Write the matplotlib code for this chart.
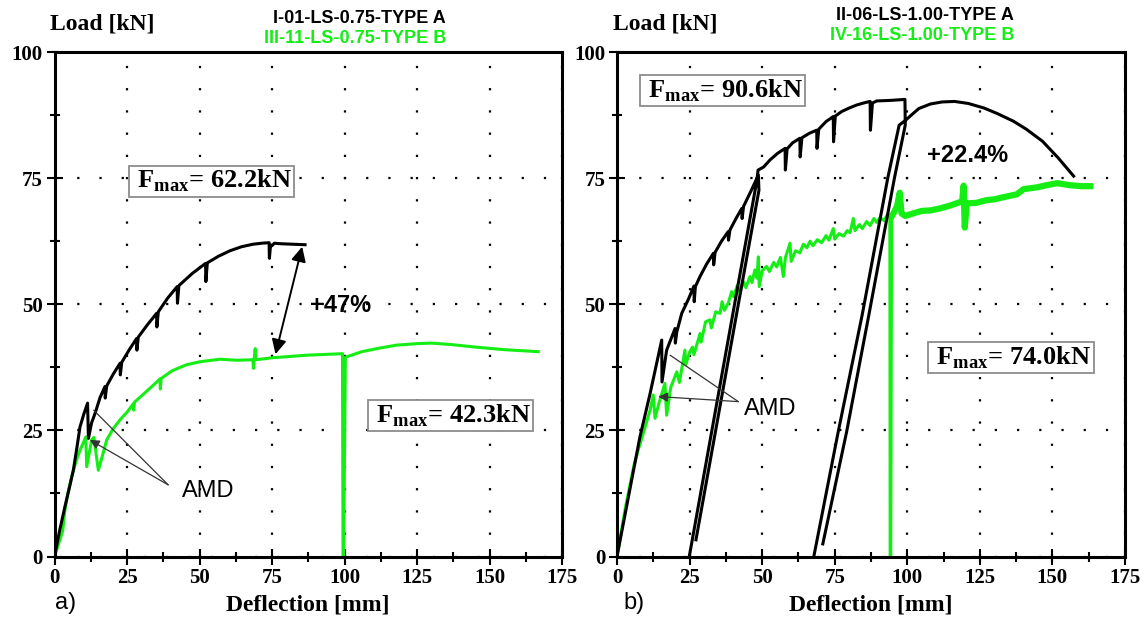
import numpy as np
import matplotlib.pyplot as plt
from matplotlib.ticker import MultipleLocator

plt.rcParams['font.family'] = 'Liberation Serif'
plt.rcParams['font.weight'] = 'bold'
plt.rcParams['mathtext.fontset'] = 'custom'
plt.rcParams['mathtext.bf'] = 'Liberation Serif:bold'
plt.rcParams['mathtext.rm'] = 'Liberation Serif:bold'

SANS = 'Liberation Sans'
GREEN = '#14ee14'
nan = np.nan

# a) specimens with lap splice 0.75
name_a1 = 'I-01-LS-0.75-TYPE A'
name_a2 = 'III-11-LS-0.75-TYPE B'
bx_a = [0, 1.8, 3.6, 5.2, 6.5, 7.7, 8.8, 10.1, 11.4, 11.7, 12.8, 14.0, 15.7, 17.4, 17.5,
        18.0, 20.3, 22.6, 22.7, 23.2, 25.8, 28.3, 28.4, 28.9, 32.0, 35.2, 35.3, 35.8, 39.0,
        42.3, 42.4, 42.9, 47.5, 52.1, 52.2, 52.7, 56.5, 60.5, 64.5, 68.5, 71.5, 74.0, 74.1,
        74.5, 75.0, 75.8, 77.8, 82.0, 86.4]
by_a = [0, 5.2, 9.9, 13.8, 17.1, 21.5, 25.7, 28.2, 30.4, 23.4, 26.5, 28.4, 31.5, 33.7, 31.4,
        33.8, 36.2, 38.3, 36.0, 38.5, 41.0, 43.2, 40.9, 43.5, 45.9, 48.2, 45.5, 48.5, 51.2,
        53.5, 50.2, 53.7, 56.1, 58.1, 54.5, 58.2, 59.5, 60.6, 61.4, 61.9, 62.1, 62.2, 59.1,
        61.7, 61.6, 62.1, 62.0, 61.9, 61.8]
gx_a = [0, 2.8, 3.6, 4.6, 5.9, 7.3, 8.8, 10.0, 10.8, 11.1, 12.3, 12.8, 13.6, 15.1, 16.3,
        18.0, 20.2, 22.6, 25.0, 27.2, 27.3, 27.6, 31.5, 36.4, 36.5, 36.8, 40.5, 45.5, 50.1,
        57.0, 63.0, 68.4, 68.6, 69.2, 69.5, 75.3, 87.0, 99.3, 99.5, 99.7, 100.3, 106.0,
        112.0, 118.0, 125.2, 130.0, 137.0, 145.3, 155.0, 166.8]
gy_a = [0, 5.0, 9.2, 12.5, 15.8, 18.6, 21.1, 22.6, 23.7, 17.8, 21.5, 23.1, 23.6, 17.1, 19.5,
        23.1, 25.3, 27.1, 28.6, 30.3, 29.0, 30.6, 32.6, 35.2, 33.2, 35.3, 36.8, 38.0, 38.6,
        39.1, 38.9, 39.0, 37.3, 41.2, 39.0, 39.4, 39.9, 40.2, 0, 0, 39.5, 40.6,
        41.3, 41.9, 42.2, 42.3, 42.0, 41.5, 41.0, 40.6]

# b) specimens with lap splice 1.00 (two unload/reload cycles on type A)
name_b1 = 'II-06-LS-1.00-TYPE A'
name_b2 = 'IV-16-LS-1.00-TYPE B'
bx_b = [0, 7.9, 11.4, 15.4, 15.5, 17.1, 20.0, 20.1, 20.6, 22.3, 24.6, 26.5, 26.6, 27.0, 28.6,
        30.8, 33.2, 33.3, 33.8, 36.0, 38.3, 38.4, 38.9, 41.0, 43.0, 43.1, 43.6, 46.2, 48.7,
        48.9, 41.8, 33.9, 27.2, nan,
        24.9, 32.6, 40.5, 48.2, 48.6, 50.5, 52.7, 55.3, 57.9, 58.0, 58.6, 60.5, 63.0, 63.1,
        63.7, 66.3, 68.8, 68.9, 69.5, 72.0, 74.5, 74.6, 75.2, 77.4, 80.0, 82.6, 85.0, 87.2,
        87.3, 88.0, 89.5, 94.0, 99.2, 99.3, 95.6, 86.8, 79.1, 70.9, nan,
        67.8, 76.2, 84.5, 93.3, 97.2, 99.5, 101.2, 104.0, 108.0, 112.0, 116.3, 121.0, 126.4,
        131.0, 136.5, 141.0, 146.6, 152.0, 157.3]
by_b = [0, 23.7, 32.3, 42.9, 34.6, 40.9, 45.2, 42.3, 44.5, 48.2, 51.0, 53.6, 50.5, 53.5, 55.5,
        57.9, 60.1, 57.8, 60.3, 62.5, 64.4, 62.7, 64.7, 67.0, 69.0, 67.0, 69.4, 72.5, 75.6,
        72.6, 50.0, 24.7, 3.3, nan,
        0, 24.7, 50.0, 74.6, 76.6, 77.2, 78.6, 79.9, 80.9, 76.6, 80.8, 82.0, 82.9, 79.2,
        83.0, 83.9, 84.5, 80.9, 84.7, 86.2, 87.2, 82.2, 87.3, 88.2, 88.9, 89.5, 89.9, 90.2,
        84.5, 89.9, 90.3, 90.4, 90.6, 85.5, 75.1, 48.0, 24.7, 2.5, nan,
        0, 24.7, 48.0, 75.1, 85.5, 86.5, 87.4, 88.8, 89.7, 90.1, 90.2, 89.8, 88.9,
        87.8, 86.3, 84.7, 82.3, 79.0, 75.4]
gx_b = [0, 3.0, 5.9, 7.5, 9.2, 11.4, 12.5, 13.1, 14.5, 16.5, 17.1, 18.5, 20.6, 21.5, 23.4,
        23.7, 25.0, 26.0, 26.5, 28.6, 29.0, 30.5, 32.0, 32.5, 34.0, 35.5, 36.2, 37.0, 38.3,
        39.5, 40.1, 41.5, 42.3, 43.5, 44.4, 45.8, 46.5, 47.5, 48.2, 48.7, 49.0, 50.0, 51.5,
        52.5, 54.0, 55.0, 56.3, 57.3, 58.0, 59.6, 60.0, 61.5, 63.0, 64.2, 65.4, 66.5, 67.5,
        69.0, 70.5, 72.0, 73.0, 74.5, 75.0, 76.5, 78.0, 79.3, 80.3, 81.4, 82.0, 83.5, 84.5,
        86.0, 87.2, 88.5, 89.5, 90.6, 92.0, 93.2, 94.0, 94.1, 94.3, 94.6, 95.5, 96.5, 97.4,
        98.0, 99.3, 102.0, 105.0, 108.0, 111.3, 115.0, 118.9, 119.4, 119.8, 120.5, 123.9,
        127.0, 130.0, 133.0, 137.8, 140.0, 145.0, 148.0, 151.7, 156.0, 160.0, 163.0]
gy_b = [0, 10.0, 18.2, 21.5, 24.7, 29.0, 32.0, 27.4, 30.5, 34.3, 28.0, 33.5, 36.6, 34.5, 40.9,
        38.0, 40.5, 41.5, 40.0, 44.2, 42.5, 46.5, 46.9, 45.3, 48.5, 48.2, 50.5, 48.8, 50.2,
        52.5, 51.5, 53.8, 52.2, 54.5, 53.3, 55.5, 54.3, 56.8, 55.2, 59.4, 53.5, 56.6, 57.5,
        56.5, 58.3, 57.4, 59.3, 55.5, 59.2, 62.1, 58.5, 60.6, 60.2, 61.9, 61.2, 62.5, 61.6,
        62.8, 62.2, 63.6, 62.7, 65.0, 62.9, 64.0, 63.5, 64.6, 64.2, 67.0, 64.6, 65.8, 65.0,
        66.4, 65.6, 67.0, 66.2, 67.2, 66.6, 67.8, 67.5, 0, 0, 67.4, 68.3, 69.5, 72.1,
        68.0, 67.5, 68.0, 68.5, 68.6, 69.0, 69.6, 70.4, 73.5, 65.2, 70.0, 70.1,
        70.6, 70.8, 71.2, 71.8, 72.8, 73.2, 73.6, 74.0, 73.6, 73.4, 73.4]


def style_axes(ax):
    ax.set_xlim(0, 175)
    ax.set_ylim(0, 100)
    ax.xaxis.set_major_locator(MultipleLocator(25))
    ax.xaxis.set_minor_locator(MultipleLocator(12.5))
    ax.yaxis.set_major_locator(MultipleLocator(25))
    ax.yaxis.set_minor_locator(MultipleLocator(12.5))
    ax.tick_params(which='major', direction='inout', length=11, width=1.5, pad=3, labelsize=15)
    ax.tick_params(which='minor', direction='inout', length=7, width=1.5)
    for sp in ax.spines.values():
        sp.set_linewidth(2.2)
    ax.grid(True, which='major', color='k', linestyle=(0, (1, 9)), linewidth=1.6)


def fmax_box(ax, x, y, val):
    ax.text(x, y, r' $\mathbf{F}_{\mathbf{max}}$= %.1fkN ' % val, ha='center', va='center',
            fontsize=19, bbox=dict(boxstyle='square,pad=0.08', fc='white', ec='#8c8c8c', lw=1.3),
            zorder=5)


def amd(ax, xt, yt, origin, peak, drop):
    ax.text(xt, yt, 'AMD', family=SANS, weight='normal', fontsize=17, ha='left', va='center')
    ax.annotate('', xy=peak, xytext=origin,
                arrowprops=dict(arrowstyle='-', color='#333333', lw=0.9, shrinkA=0, shrinkB=0))
    ax.annotate('', xy=drop, xytext=origin,
                arrowprops=dict(arrowstyle='-|>', color='#333333', lw=0.9, mutation_scale=14,
                                shrinkA=0, shrinkB=0))


fig = plt.figure(figsize=(11.48, 6.2), dpi=100)
W, H = 1148.0, 620.0
ax1 = fig.add_axes([54.5 / W, 1 - 556.5 / H, 507.5 / W, 504.5 / H])
ax2 = fig.add_axes([617 / W, 1 - 556.5 / H, 508 / W, 504.5 / H])

# panel a
style_axes(ax1)
ax1.plot(gx_a, gy_a, color=GREEN, lw=2.2)
ax1.plot(bx_a, by_a, color='k', lw=2.2)
fa1, fa2 = np.nanmax(by_a), np.nanmax(gy_a)
fmax_box(ax1, 54.2, 74.4, fa1)
fmax_box(ax1, 136.5, 27.9, fa2)
ax1.annotate('', xy=(85.4, 61.4), xytext=(76.2, 40.1),
             arrowprops=dict(arrowstyle='<|-|>', color='k', lw=1.4, mutation_scale=22,
                             shrinkA=0, shrinkB=0))
ax1.text(98.7, 49.8, '+%.0f%%' % ((fa1 / fa2 - 1) * 100), family=SANS, fontsize=17,
         ha='center', va='center')
amd(ax1, 44.0, 13.0, (39.2, 14.2), (13.5, 29.0), (12.2, 23.1))

# panel b
style_axes(ax2)
ax2.plot(gx_b, gy_b, color=GREEN, lw=2.2)
tail = np.array(gx_b) >= 94.6
ax2.plot(np.array(gx_b)[tail], np.array(gy_b)[tail], color=GREEN, lw=4.5)
ax2.plot(bx_b, by_b, color='k', lw=2.2)
fb1, fb2 = np.nanmax(by_b), np.nanmax(gy_b)
fmax_box(ax2, 36.4, 92.3, fb1)
fmax_box(ax2, 135.7, 39.4, fb2)
ax2.text(120.7, 79.4, '+%.1f%%' % ((fb1 / fb2 - 1) * 100), family=SANS, fontsize=17,
         ha='center', va='center')
amd(ax2, 43.8, 29.3, (41.8, 30.7), (18.3, 39.9), (14.2, 31.7))

# headers and axis names
for x, y, s, c in [(359.6, 18.3, name_a1, 'k'), (355.4, 38.3, name_a2, GREEN),
                   (925.4, 15.7, name_b1, 'k'), (921.7, 35.7, name_b2, GREEN)]:
    fig.text(x / W, 1 - y / H, s, color=c, family=SANS, fontsize=13, ha='center', va='center')
for x in (102.5, 665.5):
    fig.text(x / W, 1 - 24 / H, 'Load [kN]', fontsize=17, ha='center', va='center')
for x in (308.2, 871.0):
    fig.text(x / W, 1 - 605 / H, 'Deflection [mm]', fontsize=17, ha='center', va='center')
fig.text(66 / W, 1 - 603 / H, 'a)', family=SANS, weight='normal', fontsize=17, ha='center', va='center')
fig.text(634.4 / W, 1 - 603 / H, 'b)', family=SANS, weight='normal', fontsize=17, ha='center', va='center')

fig.savefig('out.png', dpi=100)
